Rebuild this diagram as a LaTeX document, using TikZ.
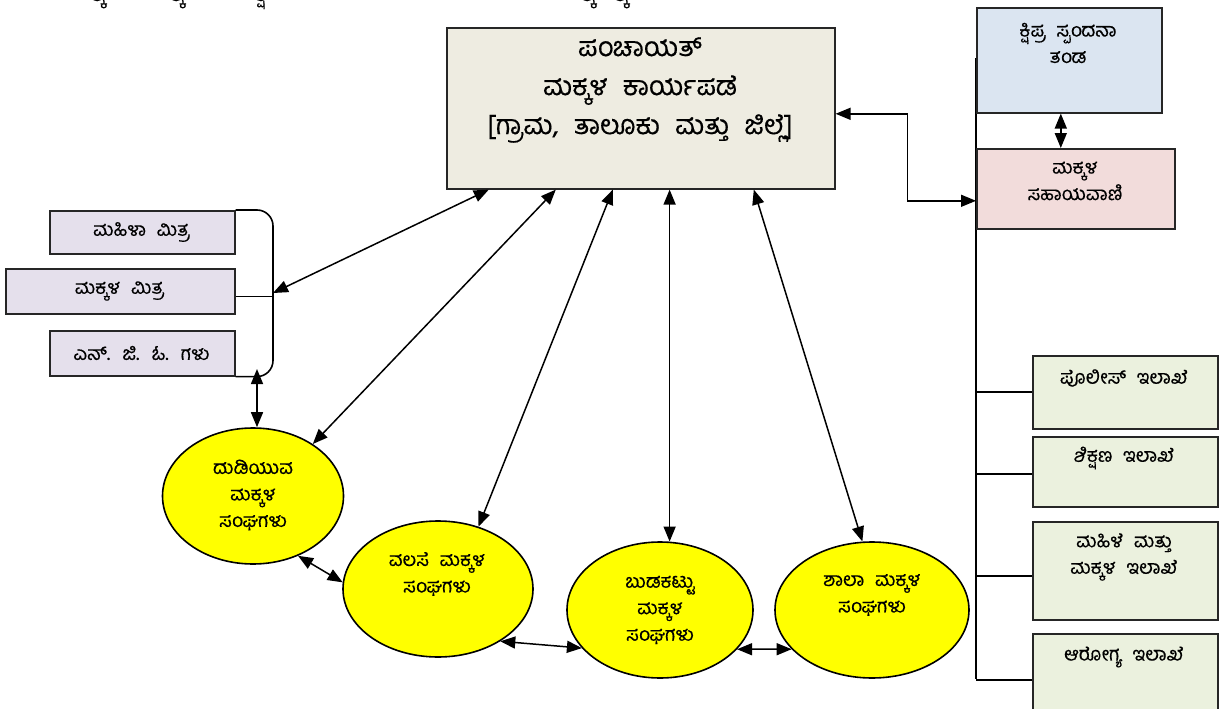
\documentclass[tikz,border=0pt]{standalone}
\usepackage{fontspec}
\newfontfamily\kn[Script=Kannada,WordSpace=2.3,FakeBold=0.4]{Hind Mysuru}
\usetikzlibrary{arrows.meta,shapes.geometric,calc}
\definecolor{beige}{HTML}{EEECE1}
\definecolor{lblue}{HTML}{DBE5F1}
\definecolor{lpink}{HTML}{F2DCDB}
\definecolor{lgreen}{HTML}{EBF1DE}
\definecolor{lav}{HTML}{E5E0EC}
\definecolor{yel}{HTML}{FFFF00}
\tikzset{
  box/.style={draw=black!85, line width=1.6pt, anchor=north west, inner sep=0pt, minimum width=#1},
  oval/.style={ellipse, draw=black, line width=1.6pt, fill=yel, inner sep=0pt},
  txt/.style={font=\kn\fontsize{19}{26.5}\selectfont, align=center, inner sep=0pt},
  bigtxt/.style={font=\kn\fontsize{27}{39}\selectfont, align=center, inner sep=0pt},
  conn/.style={line width=1.5pt, {Triangle[length=15pt,width=12pt]}-{Triangle[length=15pt,width=12pt]}},
  line/.style={line width=1.6pt},
}
\begin{document}
\begin{tikzpicture}[x=1pt,y=-1pt]
\useasboundingbox[fill=white] (0,0) rectangle (1219,709);

% cut-off fragments of a title line above the picture
\foreach \nm/\xx in {f1/98,f2/177,f3/588,f4/621}
  \node[txt, anchor=base, font=\kn\fontsize{20}{20}\selectfont] (\nm) at (\xx,1) {ಕ್ಕ};
\node[txt, anchor=base, font=\kn\fontsize{20}{20}\selectfont] (f5) at (261,1) {ಕ್ಷ};

% main box
\node[box=388, fill=beige, minimum height=161] (main) at (446,27) {};
\node[bigtxt] (mainT) at (640,90) {ಪಂಚಾಯತ್\\ಮಕ್ಕಳ ಕಾರ್ಯಪಡೆ\\ {[}ಗ್ರಾಮ, ತಾಲೂಕು ಮತ್ತು ಜಿಲ್ಲೆ{]}};

% right column
\coordinate (vt) at (976,58);
\coordinate (vb) at (976,679);
\draw[line] (vt) -- (vb);
\node[box=185, fill=lblue, minimum height=105] (blue) at (976,7) {};
\node[txt] (blueT) at (1068,43) {ಕ್ಷಿಪ್ರ ಸ್ಪಂದನಾ\\ತಂಡ};
\node[box=198, fill=lpink, minimum height=80] (pink) at (976,148) {};
\node[txt] (pinkT) at (1075,181) {ಮಕ್ಕಳ\\ಸಹಾಯವಾಣಿ};
\draw[conn] ([xshift=-8.5pt]blue.south) -- ([xshift=-15pt]pink.north);
\draw[conn] ([yshift=-5.5pt]main.east) -- ++(72,0) |- ([yshift=-12pt]pink.west);

\node[box=185, fill=lgreen, minimum height=73] (g1) at (1032,355) {};
\node[box=185, fill=lgreen, minimum height=70] (g2) at (1032,436) {};
\node[box=185, fill=lgreen, minimum height=98] (g3) at (1032,521) {};
\node[box=185, fill=lgreen, minimum height=92] (g4) at (1032,633) {};
\node[txt] (g1T) at (1124,378) {ಪೊಲೀಸ್ ಇಲಾಖೆ};
\node[txt] (g2T) at (1124,458) {ಶಿಕ್ಷಣ ಇಲಾಖೆ};
\node[txt] (g3T) at (1124,557) {ಮಹಿಳೆ ಮತ್ತು\\ಮಕ್ಕಳ ಇಲಾಖೆ};
\node[txt] (g4T) at (1124,657) {ಆರೋಗ್ಯ ಇಲಾಖೆ};
\draw[line] ([yshift=0.5pt]g1.west -| vt) -- ([yshift=0.5pt]g1.west);
\draw[line] ([yshift=-2pt]g2.west -| vt) -- ([yshift=-2pt]g2.west);
\draw[line] ([yshift=-5pt]g3.west -| vt) -- ([yshift=-5pt]g3.west);
\draw[line] (g4.west -| vt) -- (g4.west);

% left boxes
\node[box=185, fill=lav, minimum height=43] (m1) at (49,210) {};
\node[box=229, fill=lav, minimum height=45] (m2) at (5,268) {};
\node[box=185, fill=lav, minimum height=45] (m3) at (49,330) {};
\node[txt] (m1T) at (141.5,232) {ಮಹಿಳಾ ಮಿತ್ರ};
\node[txt] (m2T) at (119.5,291) {ಮಕ್ಕಳ ಮಿತ್ರ};
\node[txt] (m3T) at (141.5,353) {ಎನ್. ಜಿ. ಓ. ಗಳು};
\coordinate (brx) at (273,0);
\draw[line, rounded corners=16pt] (m1.north east) -- (m1.north east -| brx) -- (m3.south east -| brx) -- (m3.south east);
\draw[line] ([yshift=-5pt]m2.east) -- ([yshift=-5pt]m2.east -| brx);
\coordinate (brm) at (273,293);
\coordinate (brb) at (257,369);

% ellipses
\node[oval, minimum width=181, minimum height=136] (e1) at (253,496) {};
\node[oval, minimum width=190, minimum height=136] (e2) at (438,589) {};
\node[oval, minimum width=186, minimum height=136] (e3) at (660,610) {};
\node[oval, minimum width=194, minimum height=136] (e4) at (872,610) {};
\node[txt] (e1T) at (253,495) {ದುಡಿಯುವ\\ಮಕ್ಕಳ\\ಸಂಘಗಳು};
\node[txt] (e2T) at (437,574) {ವಲಸೆ ಮಕ್ಕಳ\\ಸಂಘಗಳು};
\node[txt] (e3T) at (660,610) {ಬುಡಕಟ್ಟು\\ಮಕ್ಕಳ\\ಸಂಘಗಳು};
\node[txt] (e4T) at (872,595) {ಶಾಲಾ ಮಕ್ಕಳ\\ಸಂಘಗಳು};

% connectors
\draw[conn] ([xshift=-152pt]main.south) -- (brm);
\draw[conn] (brb) -- (brb |- e1.north);
\draw[conn] ([xshift=-85pt]main.south) -- (e1.41);
\draw[conn] ([xshift=-28pt]main.south) -- (e2.57);
\draw[conn] (main.south -| e3.82) -- (e3.82);
\draw[conn] ([xshift=113pt]main.south) -- (e4.98);
\draw[conn] (e1.-53) -- (e2.176);
\draw[conn] (e2.-40) -- (e3.206);
\draw[conn] (e3.-27) -- (e4.206);
\end{tikzpicture}
\end{document}
